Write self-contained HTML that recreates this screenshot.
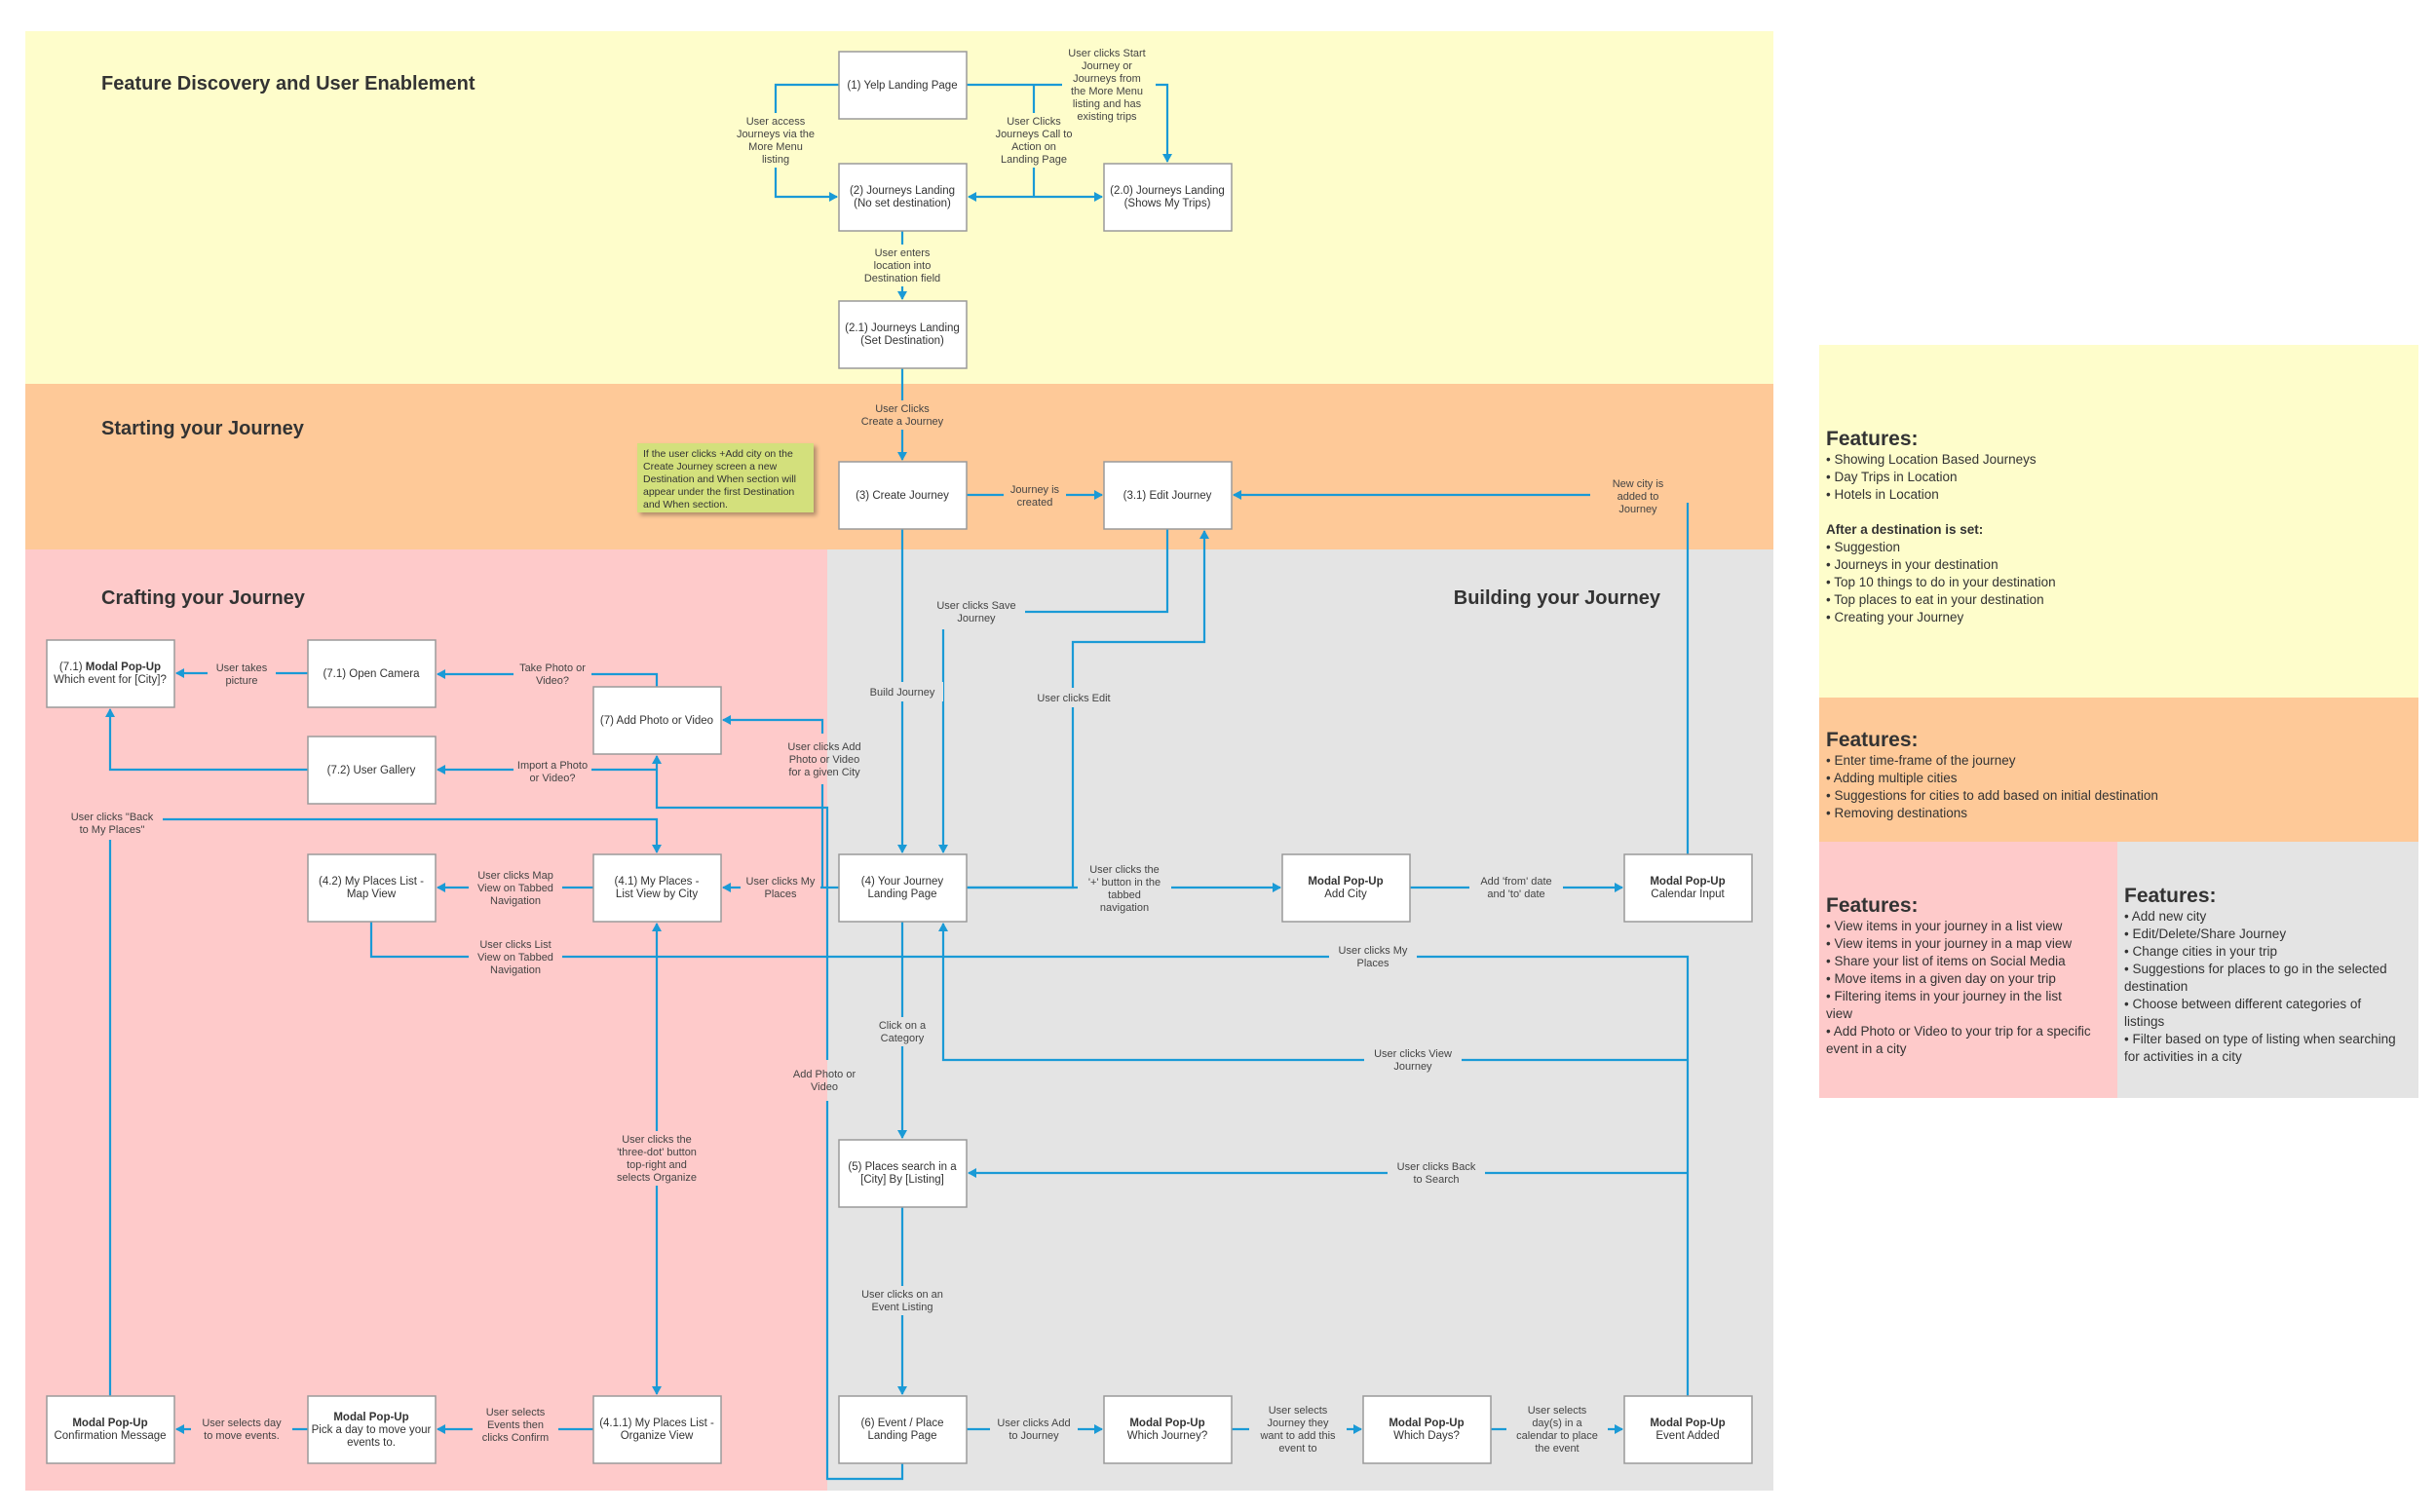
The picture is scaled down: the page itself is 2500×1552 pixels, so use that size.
<!DOCTYPE html>
<html><head><meta charset="utf-8"><style>
html,body{margin:0;padding:0;background:#fff}
svg{display:block}
.b{fill:#fff;stroke:#9a9a9a;stroke-width:1.5}
.bt{font-family:"Liberation Sans",Arial,sans-serif;font-size:11.5px;fill:#333;text-anchor:middle}
.lt{font-family:"Liberation Sans",Arial,sans-serif;font-size:11px;fill:#444;text-anchor:middle}
.ttl{font-family:"Liberation Sans",Arial,sans-serif;font-size:20px;font-weight:bold;fill:#333}
.c{fill:none;stroke:#1a9ad6;stroke-width:2.2}
.ft{font-family:"Liberation Sans",Arial,sans-serif;font-size:21px;font-weight:bold;fill:#333}
.fi{font-family:"Liberation Sans",Arial,sans-serif;font-size:13.5px;fill:#333}
</style></head><body>
<svg width="2500" height="1552" viewBox="0 0 2500 1552" xmlns="http://www.w3.org/2000/svg">
<defs>
<marker id="a" markerWidth="10" markerHeight="10" refX="8" refY="5" orient="auto-start-reverse" markerUnits="userSpaceOnUse">
<path d="M0,0 L9,5 L0,10 z" fill="#1a9ad6"/></marker>
<filter id="sh"><feDropShadow dx="3" dy="3" stdDeviation="2" flood-opacity="0.3"/></filter>
</defs>
<!-- bands -->
<rect x="26" y="32" width="1794" height="362" fill="#fefdcb"/>
<rect x="26" y="394" width="1794" height="170" fill="#fec998"/>
<rect x="26" y="564" width="823" height="966" fill="#fecaca"/>
<rect x="849" y="564" width="971" height="966" fill="#e4e4e4"/>
<!-- right panels -->
<rect x="1867" y="354" width="615" height="362" fill="#fefdcb"/>
<rect x="1867" y="716" width="615" height="148" fill="#fec998"/>
<rect x="1867" y="864" width="306" height="263" fill="#fecaca"/>
<rect x="2173" y="864" width="309" height="263" fill="#e4e4e4"/>

<text class="ttl" x="104" y="92">Feature Discovery and User Enablement</text>
<text class="ttl" x="104" y="446">Starting your Journey</text>
<text class="ttl" x="104" y="620">Crafting your Journey</text>
<text class="ttl" x="1704" y="620" text-anchor="end">Building your Journey</text>

<!-- features text -->
<text class="ft" x="1874" y="457">Features:</text>
<text class="fi" x="1874" y="476"><tspan x="1874">• Showing Location Based Journeys</tspan><tspan x="1874" dy="18">• Day Trips in Location</tspan><tspan x="1874" dy="18">• Hotels in Location</tspan><tspan x="1874" dy="36" font-weight="bold">After a destination is set:</tspan><tspan x="1874" dy="18">• Suggestion</tspan><tspan x="1874" dy="18">• Journeys in your destination</tspan><tspan x="1874" dy="18">• Top 10 things to do in your destination</tspan><tspan x="1874" dy="18">• Top places to eat in your destination</tspan><tspan x="1874" dy="18">• Creating your Journey</tspan></text>
<text class="ft" x="1874" y="766">Features:</text>
<text class="fi" x="1874" y="785"><tspan x="1874">• Enter time-frame of the journey</tspan><tspan x="1874" dy="18">• Adding multiple cities</tspan><tspan x="1874" dy="18">• Suggestions for cities to add based on initial destination</tspan><tspan x="1874" dy="18">• Removing destinations</tspan></text>
<text class="ft" x="1874" y="936">Features:</text>
<text class="fi" x="1874" y="955" font-size="13"><tspan x="1874">• View items in your journey in a list view</tspan><tspan x="1874" dy="18">• View items in your journey in a map view</tspan><tspan x="1874" dy="18">• Share your list of items on Social Media</tspan><tspan x="1874" dy="18">• Move items in a given day on your trip</tspan><tspan x="1874" dy="18">• Filtering items in your journey in the list</tspan><tspan x="1874" dy="18">view</tspan><tspan x="1874" dy="18">• Add Photo or Video to your trip for a specific</tspan><tspan x="1874" dy="18">event in a city</tspan></text>
<text class="ft" x="2180" y="926">Features:</text>
<text class="fi" x="2180" y="945" font-size="13"><tspan x="2180">• Add new city</tspan><tspan x="2180" dy="18">• Edit/Delete/Share Journey</tspan><tspan x="2180" dy="18">• Change cities in your trip</tspan><tspan x="2180" dy="18">• Suggestions for places to go in the selected</tspan><tspan x="2180" dy="18">destination</tspan><tspan x="2180" dy="18">• Choose between different categories of</tspan><tspan x="2180" dy="18">listings</tspan><tspan x="2180" dy="18">• Filter based on type of listing when searching</tspan><tspan x="2180" dy="18">for activities in a city</tspan></text>

<!-- connectors -->
<path class="c" d="M861,87 H796 V202 H859" marker-end="url(#a)"/>
<path class="c" d="M992,87 H1198 V166" marker-end="url(#a)"/>
<path class="c" d="M1061,87 V202"/>
<path class="c" d="M994,202 H1131" marker-start="url(#a)" marker-end="url(#a)"/>
<path class="c" d="M926,237 V307" marker-end="url(#a)"/>
<path class="c" d="M926,378 V472" marker-end="url(#a)"/>
<path class="c" d="M992,508 H1131" marker-end="url(#a)"/>
<path class="c" d="M1732,877 V516"/>
<path class="c" d="M1632,508 H1266" marker-end="url(#a)"/>
<path class="c" d="M926,543 V875" marker-end="url(#a)"/>
<path class="c" d="M1198,543 V628 H968 V875" marker-end="url(#a)"/>
<path class="c" d="M992,911 H1101 V659 H1236 V545" marker-end="url(#a)"/>
<path class="c" d="M992,911 H1314" marker-end="url(#a)"/>
<path class="c" d="M1447,911 H1665" marker-end="url(#a)"/>
<path class="c" d="M861,911 H742" marker-end="url(#a)"/>
<path class="c" d="M609,911 H449" marker-end="url(#a)"/>
<path class="c" d="M381,946 V982 H1732 V1433"/>
<path class="c" d="M674,1431 V948" marker-start="url(#a)" marker-end="url(#a)"/>
<path class="c" d="M1732,1088 H968 V948" marker-end="url(#a)"/>
<path class="c" d="M1732,1204 H994" marker-end="url(#a)"/>
<path class="c" d="M926,946 V1168" marker-end="url(#a)"/>
<path class="c" d="M926,1239 V1431" marker-end="url(#a)"/>
<path class="c" d="M992,1467 H1131" marker-end="url(#a)"/>
<path class="c" d="M1264,1467 H1397" marker-end="url(#a)"/>
<path class="c" d="M1530,1467 H1665" marker-end="url(#a)"/>
<path class="c" d="M926,1502 V1518 H849 V1130"/>
<path class="c" d="M849,1088 V829 H674 V776" marker-end="url(#a)"/>
<path class="c" d="M844,911 V805"/>
<path class="c" d="M844,753 V739 H742" marker-end="url(#a)"/>
<path class="c" d="M674,705 V692 H449" marker-end="url(#a)"/>
<path class="c" d="M674,790 H449" marker-end="url(#a)"/>
<path class="c" d="M316,691 H181" marker-end="url(#a)"/>
<path class="c" d="M316,790 H113 V728" marker-end="url(#a)"/>
<path class="c" d="M113,1433 V862"/>
<path class="c" d="M167,841 H674 V875" marker-end="url(#a)"/>
<path class="c" d="M609,1467 H449" marker-end="url(#a)"/>
<path class="c" d="M316,1467 H181" marker-end="url(#a)"/>

<!-- labels (yellow) -->
<g>
<rect x="752" y="116" width="88" height="56" fill="#fefdcb"/>
<text class="lt" y="128"><tspan x="796">User access</tspan><tspan x="796" dy="13">Journeys via the</tspan><tspan x="796" dy="13">More Menu</tspan><tspan x="796" dy="13">listing</tspan></text>
<rect x="1090" y="48" width="96" height="80" fill="#fefdcb"/>
<text class="lt" y="58"><tspan x="1136">User clicks Start</tspan><tspan x="1136" dy="13">Journey or</tspan><tspan x="1136" dy="13">Journeys from</tspan><tspan x="1136" dy="13">the More Menu</tspan><tspan x="1136" dy="13">listing and has</tspan><tspan x="1136" dy="13">existing trips</tspan></text>
<rect x="1017" y="116" width="88" height="56" fill="#fefdcb"/>
<text class="lt" y="128"><tspan x="1061">User Clicks</tspan><tspan x="1061" dy="13">Journeys Call to</tspan><tspan x="1061" dy="13">Action on</tspan><tspan x="1061" dy="13">Landing Page</tspan></text>
<rect x="880" y="251" width="92" height="43" fill="#fefdcb"/>
<text class="lt" y="263"><tspan x="926">User enters</tspan><tspan x="926" dy="13">location into</tspan><tspan x="926" dy="13">Destination field</tspan></text>
</g>
<!-- labels orange -->
<rect x="880" y="411" width="92" height="30" fill="#fec998"/>
<text class="lt" y="423"><tspan x="926">User Clicks</tspan><tspan x="926" dy="13">Create a Journey</tspan></text>
<rect x="1030" y="494" width="64" height="30" fill="#fec998"/>
<text class="lt" y="506"><tspan x="1062">Journey is</tspan><tspan x="1062" dy="13">created</tspan></text>
<text class="lt" y="500"><tspan x="1681">New city is</tspan><tspan x="1681" dy="13">added to</tspan><tspan x="1681" dy="13">Journey</tspan></text>
<!-- note -->
<rect x="654" y="455" width="181" height="71" fill="#d3e07c" filter="url(#sh)"/>
<text font-family="Liberation Sans, Arial, sans-serif" font-size="10.5" fill="#333" y="469"><tspan x="660">If the user clicks +Add city on the</tspan><tspan x="660" dy="13">Create Journey screen a new</tspan><tspan x="660" dy="13">Destination and When section will</tspan><tspan x="660" dy="13">appear under the first Destination</tspan><tspan x="660" dy="13">and When section.</tspan></text>

<!-- labels gray -->
<rect x="952" y="612" width="100" height="34" fill="#e4e4e4"/>
<text class="lt" y="625"><tspan x="1002">User clicks Save</tspan><tspan x="1002" dy="13">Journey</tspan></text>
<rect x="884" y="700" width="84" height="20" fill="#e4e4e4"/>
<text class="lt" x="926" y="714">Build Journey</text>
<rect x="1058" y="706" width="88" height="20" fill="#e4e4e4"/>
<text class="lt" x="1102" y="720">User clicks Edit</text>
<rect x="1106" y="884" width="96" height="56" fill="#e4e4e4"/>
<text class="lt" y="896"><tspan x="1154">User clicks the</tspan><tspan x="1154" dy="13">'+' button in the</tspan><tspan x="1154" dy="13">tabbed</tspan><tspan x="1154" dy="13">navigation</tspan></text>
<rect x="1508" y="896" width="96" height="30" fill="#e4e4e4"/>
<text class="lt" y="908"><tspan x="1556">Add 'from' date</tspan><tspan x="1556" dy="13">and 'to' date</tspan></text>
<rect x="1364" y="967" width="90" height="30" fill="#e4e4e4"/>
<text class="lt" y="979"><tspan x="1409">User clicks My</tspan><tspan x="1409" dy="13">Places</tspan></text>
<rect x="1400" y="1073" width="100" height="30" fill="#e4e4e4"/>
<text class="lt" y="1085"><tspan x="1450">User clicks View</tspan><tspan x="1450" dy="13">Journey</tspan></text>
<rect x="1424" y="1189" width="100" height="30" fill="#e4e4e4"/>
<text class="lt" y="1201"><tspan x="1474">User clicks Back</tspan><tspan x="1474" dy="13">to Search</tspan></text>
<rect x="888" y="1044" width="76" height="30" fill="#e4e4e4"/>
<text class="lt" y="1056"><tspan x="926">Click on a</tspan><tspan x="926" dy="13">Category</tspan></text>
<rect x="876" y="1320" width="100" height="30" fill="#e4e4e4"/>
<text class="lt" y="1332"><tspan x="926">User clicks on an</tspan><tspan x="926" dy="13">Event Listing</tspan></text>
<rect x="1016" y="1452" width="90" height="30" fill="#e4e4e4"/>
<text class="lt" y="1464"><tspan x="1061">User clicks Add</tspan><tspan x="1061" dy="13">to Journey</tspan></text>
<rect x="1282" y="1439" width="100" height="56" fill="#e4e4e4"/>
<text class="lt" y="1451"><tspan x="1332">User selects</tspan><tspan x="1332" dy="13">Journey they</tspan><tspan x="1332" dy="13">want to add this</tspan><tspan x="1332" dy="13">event to</tspan></text>
<rect x="1546" y="1439" width="104" height="56" fill="#e4e4e4"/>
<text class="lt" y="1451"><tspan x="1598">User selects</tspan><tspan x="1598" dy="13">day(s) in a</tspan><tspan x="1598" dy="13">calendar to place</tspan><tspan x="1598" dy="13">the event</tspan></text>
<text class="lt" y="1106"><tspan x="846">Add Photo or</tspan><tspan x="846" dy="13">Video</tspan></text>
<text class="lt" y="770"><tspan x="846">User clicks Add</tspan><tspan x="846" dy="13">Photo or Video</tspan><tspan x="846" dy="13">for a given City</tspan></text>

<!-- labels pink -->
<rect x="760" y="896" width="82" height="30" fill="#fecaca"/>
<text class="lt" y="908"><tspan x="801">User clicks My</tspan><tspan x="801" dy="13">Places</tspan></text>
<rect x="481" y="890" width="96" height="43" fill="#fecaca"/>
<text class="lt" y="902"><tspan x="529">User clicks Map</tspan><tspan x="529" dy="13">View on Tabbed</tspan><tspan x="529" dy="13">Navigation</tspan></text>
<rect x="481" y="961" width="96" height="43" fill="#fecaca"/>
<text class="lt" y="973"><tspan x="529">User clicks List</tspan><tspan x="529" dy="13">View on Tabbed</tspan><tspan x="529" dy="13">Navigation</tspan></text>
<rect x="620" y="1161" width="108" height="56" fill="#fecaca"/>
<text class="lt" y="1173"><tspan x="674">User clicks the</tspan><tspan x="674" dy="13">'three-dot' button</tspan><tspan x="674" dy="13">top-right and</tspan><tspan x="674" dy="13">selects Organize</tspan></text>
<rect x="527" y="677" width="80" height="30" fill="#fecaca"/>
<text class="lt" y="689"><tspan x="567">Take Photo or</tspan><tspan x="567" dy="13">Video?</tspan></text>
<rect x="527" y="777" width="80" height="30" fill="#fecaca"/>
<text class="lt" y="789"><tspan x="567">Import a Photo</tspan><tspan x="567" dy="13">or Video?</tspan></text>
<rect x="213" y="677" width="70" height="30" fill="#fecaca"/>
<text class="lt" y="689"><tspan x="248">User takes</tspan><tspan x="248" dy="13">picture</tspan></text>
<text class="lt" y="842"><tspan x="115">User clicks "Back</tspan><tspan x="115" dy="13">to My Places"</tspan></text>
<rect x="485" y="1441" width="88" height="43" fill="#fecaca"/>
<text class="lt" y="1453"><tspan x="529">User selects</tspan><tspan x="529" dy="13">Events then</tspan><tspan x="529" dy="13">clicks Confirm</tspan></text>
<rect x="196" y="1452" width="104" height="30" fill="#fecaca"/>
<text class="lt" y="1464"><tspan x="248">User selects day</tspan><tspan x="248" dy="13">to move events.</tspan></text>

<!-- boxes -->
<g>
<rect class="b" x="861" y="53" width="131" height="69"/><text class="bt" x="926" y="91">(1) Yelp Landing Page</text>
<rect class="b" x="861" y="168" width="131" height="69"/><text class="bt" y="199"><tspan x="926">(2) Journeys Landing</tspan><tspan x="926" dy="13">(No set destination)</tspan></text>
<rect class="b" x="1133" y="168" width="131" height="69"/><text class="bt" y="199"><tspan x="1198">(2.0) Journeys Landing</tspan><tspan x="1198" dy="13">(Shows My Trips)</tspan></text>
<rect class="b" x="861" y="309" width="131" height="69"/><text class="bt" y="340"><tspan x="926">(2.1) Journeys Landing</tspan><tspan x="926" dy="13">(Set Destination)</tspan></text>
<rect class="b" x="861" y="474" width="131" height="69"/><text class="bt" x="926" y="512">(3) Create Journey</text>
<rect class="b" x="1133" y="474" width="131" height="69"/><text class="bt" x="1198" y="512">(3.1) Edit Journey</text>
<rect class="b" x="48" y="657" width="131" height="69"/><text class="bt" y="688"><tspan x="113">(7.1) <tspan font-weight="bold">Modal Pop-Up</tspan></tspan><tspan x="113" dy="13">Which event for [City]?</tspan></text>
<rect class="b" x="316" y="657" width="131" height="69"/><text class="bt" x="381" y="695">(7.1) Open Camera</text>
<rect class="b" x="609" y="705" width="131" height="69"/><text class="bt" x="674" y="743">(7) Add Photo or Video</text>
<rect class="b" x="316" y="756" width="131" height="69"/><text class="bt" x="381" y="794">(7.2) User Gallery</text>
<rect class="b" x="316" y="877" width="131" height="69"/><text class="bt" y="908"><tspan x="381">(4.2) My Places List -</tspan><tspan x="381" dy="13">Map View</tspan></text>
<rect class="b" x="609" y="877" width="131" height="69"/><text class="bt" y="908"><tspan x="674">(4.1) My Places -</tspan><tspan x="674" dy="13">List View by City</tspan></text>
<rect class="b" x="861" y="877" width="131" height="69"/><text class="bt" y="908"><tspan x="926">(4) Your Journey</tspan><tspan x="926" dy="13">Landing Page</tspan></text>
<rect class="b" x="1316" y="877" width="131" height="69"/><text class="bt" y="908"><tspan x="1381" font-weight="bold">Modal Pop-Up</tspan><tspan x="1381" dy="13">Add City</tspan></text>
<rect class="b" x="1667" y="877" width="131" height="69"/><text class="bt" y="908"><tspan x="1732" font-weight="bold">Modal Pop-Up</tspan><tspan x="1732" dy="13">Calendar Input</tspan></text>
<rect class="b" x="861" y="1170" width="131" height="69"/><text class="bt" y="1201"><tspan x="926">(5) Places search in a</tspan><tspan x="926" dy="13">[City] By [Listing]</tspan></text>
<rect class="b" x="48" y="1433" width="131" height="69"/><text class="bt" y="1464"><tspan x="113" font-weight="bold">Modal Pop-Up</tspan><tspan x="113" dy="13">Confirmation Message</tspan></text>
<rect class="b" x="316" y="1433" width="131" height="69"/><text class="bt" y="1458"><tspan x="381" font-weight="bold">Modal Pop-Up</tspan><tspan x="381" dy="13">Pick a day to move your</tspan><tspan x="381" dy="13">events to.</tspan></text>
<rect class="b" x="609" y="1433" width="131" height="69"/><text class="bt" y="1464"><tspan x="674">(4.1.1) My Places List -</tspan><tspan x="674" dy="13">Organize View</tspan></text>
<rect class="b" x="861" y="1433" width="131" height="69"/><text class="bt" y="1464"><tspan x="926">(6) Event / Place</tspan><tspan x="926" dy="13">Landing Page</tspan></text>
<rect class="b" x="1133" y="1433" width="131" height="69"/><text class="bt" y="1464"><tspan x="1198" font-weight="bold">Modal Pop-Up</tspan><tspan x="1198" dy="13">Which Journey?</tspan></text>
<rect class="b" x="1399" y="1433" width="131" height="69"/><text class="bt" y="1464"><tspan x="1464" font-weight="bold">Modal Pop-Up</tspan><tspan x="1464" dy="13">Which Days?</tspan></text>
<rect class="b" x="1667" y="1433" width="131" height="69"/><text class="bt" y="1464"><tspan x="1732" font-weight="bold">Modal Pop-Up</tspan><tspan x="1732" dy="13">Event Added</tspan></text>
</g>
</svg>
</body></html>
